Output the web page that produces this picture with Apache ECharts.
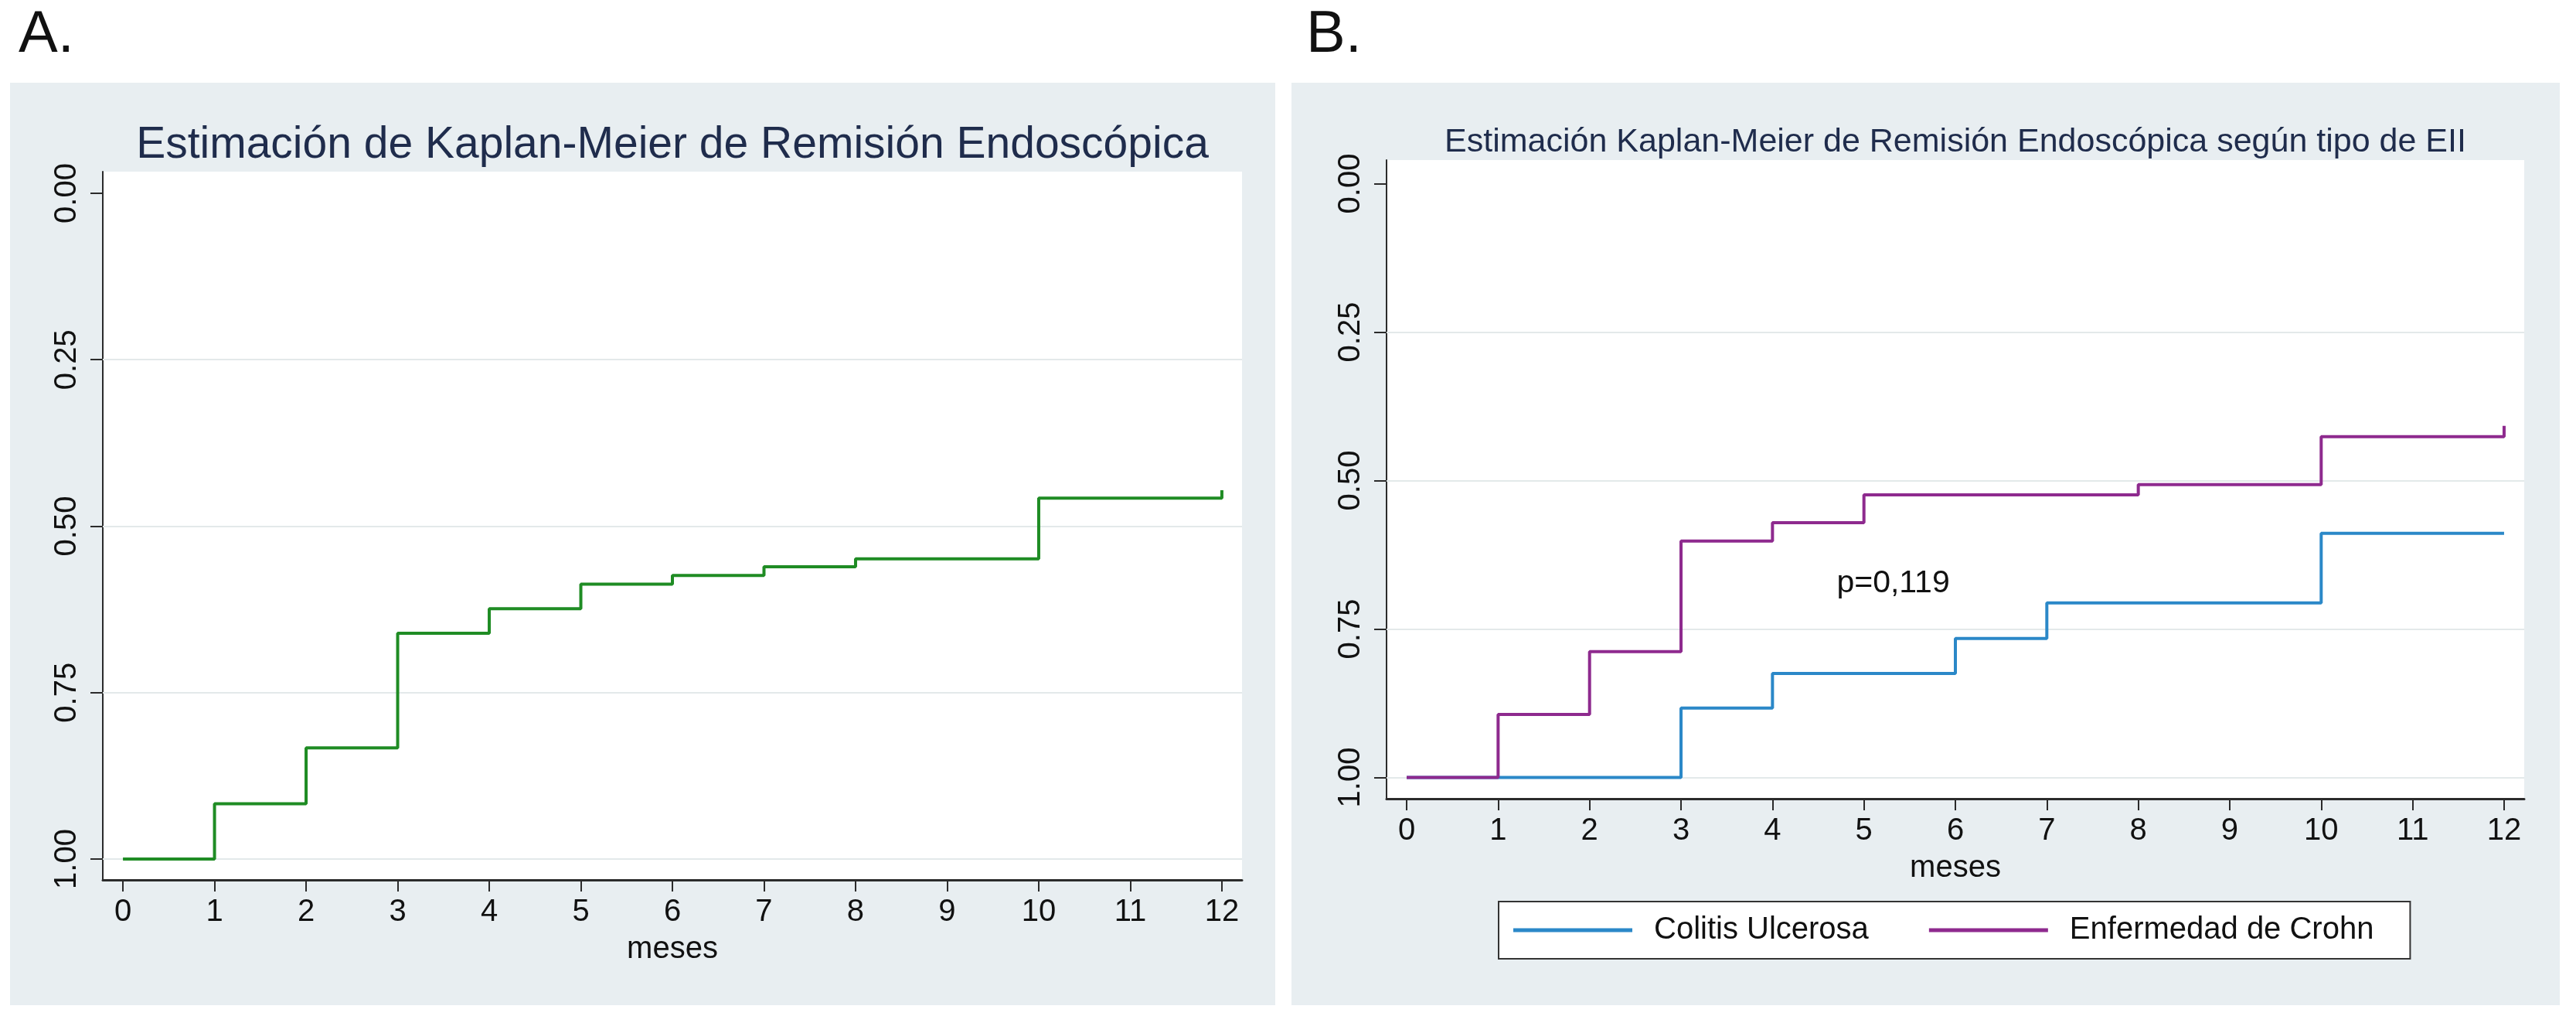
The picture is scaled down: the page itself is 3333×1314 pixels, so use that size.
<!DOCTYPE html>
<html>
<head>
<meta charset="utf-8">
<script src="https://cdn.jsdelivr.net/npm/echarts@6/dist/echarts.min.js"></script>
<style>
html,body{margin:0;padding:0;background:#ffffff;}
#chart{width:3333px;height:1314px;}
</style>
</head>
<body>
<div id="chart"></div>
<script>
// ---- data ----
const monthTicks = [0,1,2,3,4,5,6,7,8,9,10,11,12];
const yTicks = [0, 0.25, 0.5, 0.75, 1];
const gridLineValues = [0.25, 0.5, 0.75, 1];

// Panel A: overall KM estimate
const timeAll = [0, 1, 2, 3, 4, 5, 6, 7, 8, 10, 12];
const survAll = [1, 0.917, 0.833, 0.661, 0.624, 0.587, 0.574, 0.561, 0.549, 0.458, 0.446];

// Panel B: by IBD type
const timeCU = [0, 3, 4, 6, 7, 10, 12];
const survCU = [1, 0.883, 0.825, 0.766, 0.706, 0.589, 0.589];
const timeEC = [0, 1, 2, 3, 4, 5, 8, 10, 12];
const survEC = [1, 0.894, 0.788, 0.602, 0.571, 0.524, 0.507, 0.426, 0.408];

const titleA = 'Estimación de Kaplan-Meier de Remisión Endoscópica';
const titleB = 'Estimación Kaplan-Meier de Remisión Endoscópica según tipo de EII';
const seriesNames = ['Colitis Ulcerosa', 'Enfermedad de Crohn'];
const pText = 'p=0,119';
const pPos = [5.32, 0.673];

// ---- build ----
const zip = (t, s) => t.map((x, i) => [x, s[i]]);
const FONT = "'Liberation Sans', Arial, Helvetica, sans-serif";
const AX = '#2b2b2b';
const GRIDC = '#e3e9ea';

function xAxisCfg(gridIndex) {
  return {
    type: 'value', gridIndex, min: -0.22, max: 12.22,
    name: 'meses', nameLocation: 'middle', nameGap: 70,
    nameTextStyle: {fontFamily: FONT, fontSize: 40, color: '#111'},
    axisLine: {show: true, onZero: false, lineStyle: {color: AX, width: 3}},
    axisTick: {show: true, length: 15, customValues: monthTicks, lineStyle: {color: AX, width: 2}},
    axisLabel: {show: true, customValues: monthTicks, margin: 22, fontFamily: FONT, fontSize: 40, color: '#111'},
    splitLine: {show: false}
  };
}
function yAxisCfg(gridIndex, min, max) {
  return {
    type: 'value', gridIndex, inverse: true, min, max,
    axisLine: {show: true, onZero: false, lineStyle: {color: AX, width: 2}},
    axisTick: {show: true, length: 16, customValues: yTicks, lineStyle: {color: AX, width: 2}},
    axisLabel: {show: true, customValues: yTicks, rotate: 90, margin: 26, fontFamily: FONT, fontSize: 40, color: '#111',
      formatter: v => Number(v).toFixed(2)},
    splitLine: {show: false}
  };
}
function gridLines() {
  return {
    silent: true, z: 1, symbol: ['none', 'none'], animation: false,
    label: {show: false},
    lineStyle: {color: GRIDC, width: 2, type: 'solid'},
    data: gridLineValues.map(v => ({yAxis: v}))
  };
}

const option = {
  backgroundColor: '#ffffff',
  animation: false,
  graphic: {
    elements: [
      {type: 'rect', z: -10, shape: {x: 13, y: 107, width: 1637, height: 1193}, style: {fill: '#e8eef1'}},
      {type: 'rect', z: -10, shape: {x: 1671, y: 107, width: 1641, height: 1193}, style: {fill: '#e8eef1'}}
    ]
  },
  title: [
    {text: 'A.', left: 24, top: 46, padding: 0, textAlign: 'left', textVerticalAlign: 'middle',
      textStyle: {fontFamily: FONT, fontSize: 76, fontWeight: 'normal', color: '#111'}},
    {text: 'B.', left: 1690, top: 46, padding: 0, textAlign: 'left', textVerticalAlign: 'middle',
      textStyle: {fontFamily: FONT, fontSize: 76, fontWeight: 'normal', color: '#111'}},
    {text: titleA, left: 870, top: 188, padding: 0, textAlign: 'center', textVerticalAlign: 'middle',
      textStyle: {fontFamily: FONT, fontSize: 57, fontWeight: 'normal', color: '#1f2c4c'}},
    {text: titleB, left: 2530, top: 184, padding: 0, textAlign: 'center', textVerticalAlign: 'middle',
      textStyle: {fontFamily: FONT, fontSize: 43, fontWeight: 'normal', color: '#1f2c4c'}}
  ],
  grid: [
    {left: 133, top: 222, width: 1474, height: 916, show: true, backgroundColor: '#ffffff', borderWidth: 0},
    {left: 1794, top: 207, width: 1472, height: 826, show: true, backgroundColor: '#ffffff', borderWidth: 0}
  ],
  xAxis: [xAxisCfg(0), xAxisCfg(1)],
  yAxis: [yAxisCfg(0, -0.0325, 1.0314), yAxisCfg(1, -0.0397, 1.0358)],
  legend: {
    data: seriesNames,
    left: 1939, top: 1166,
    orient: 'horizontal',
    padding: [17, 47, 17, 19],
    itemGap: 78,
    itemWidth: 154, itemHeight: 5,
    icon: 'rect',
    backgroundColor: '#ffffff',
    borderColor: '#333333', borderWidth: 2, borderRadius: 0,
    textStyle: {fontFamily: FONT, fontSize: 40, color: '#111', padding: [0, 0, 0, 23]}
  },
  series: [
    {
      name: 'Remisión', type: 'line', xAxisIndex: 0, yAxisIndex: 0, step: 'end',
      showSymbol: false, symbol: 'none',
      lineStyle: {color: '#1f8c24', width: 4}, itemStyle: {color: '#1f8c24'},
      data: zip(timeAll, survAll),
      markLine: gridLines()
    },
    {
      name: seriesNames[0], type: 'line', xAxisIndex: 1, yAxisIndex: 1, step: 'end',
      showSymbol: false, symbol: 'none',
      lineStyle: {color: '#2b88c8', width: 4}, itemStyle: {color: '#2b88c8'},
      data: zip(timeCU, survCU),
      markLine: gridLines()
    },
    {
      name: seriesNames[1], type: 'line', xAxisIndex: 1, yAxisIndex: 1, step: 'end',
      showSymbol: false, symbol: 'none',
      lineStyle: {color: '#8e2a8e', width: 4}, itemStyle: {color: '#8e2a8e'},
      data: zip(timeEC, survEC),
      markPoint: {
        silent: true, animation: false,
        symbol: 'circle', symbolSize: 1,
        itemStyle: {color: 'rgba(0,0,0,0)'},
        label: {show: true, position: 'inside', formatter: pText, fontFamily: FONT, fontSize: 41, color: '#111'},
        data: [{coord: pPos}]
      }
    }
  ]
};

const chart = echarts.init(document.getElementById('chart'), null, {renderer: 'canvas', width: 3333, height: 1314});
chart.setOption(option);
</script>
</body>
</html>
